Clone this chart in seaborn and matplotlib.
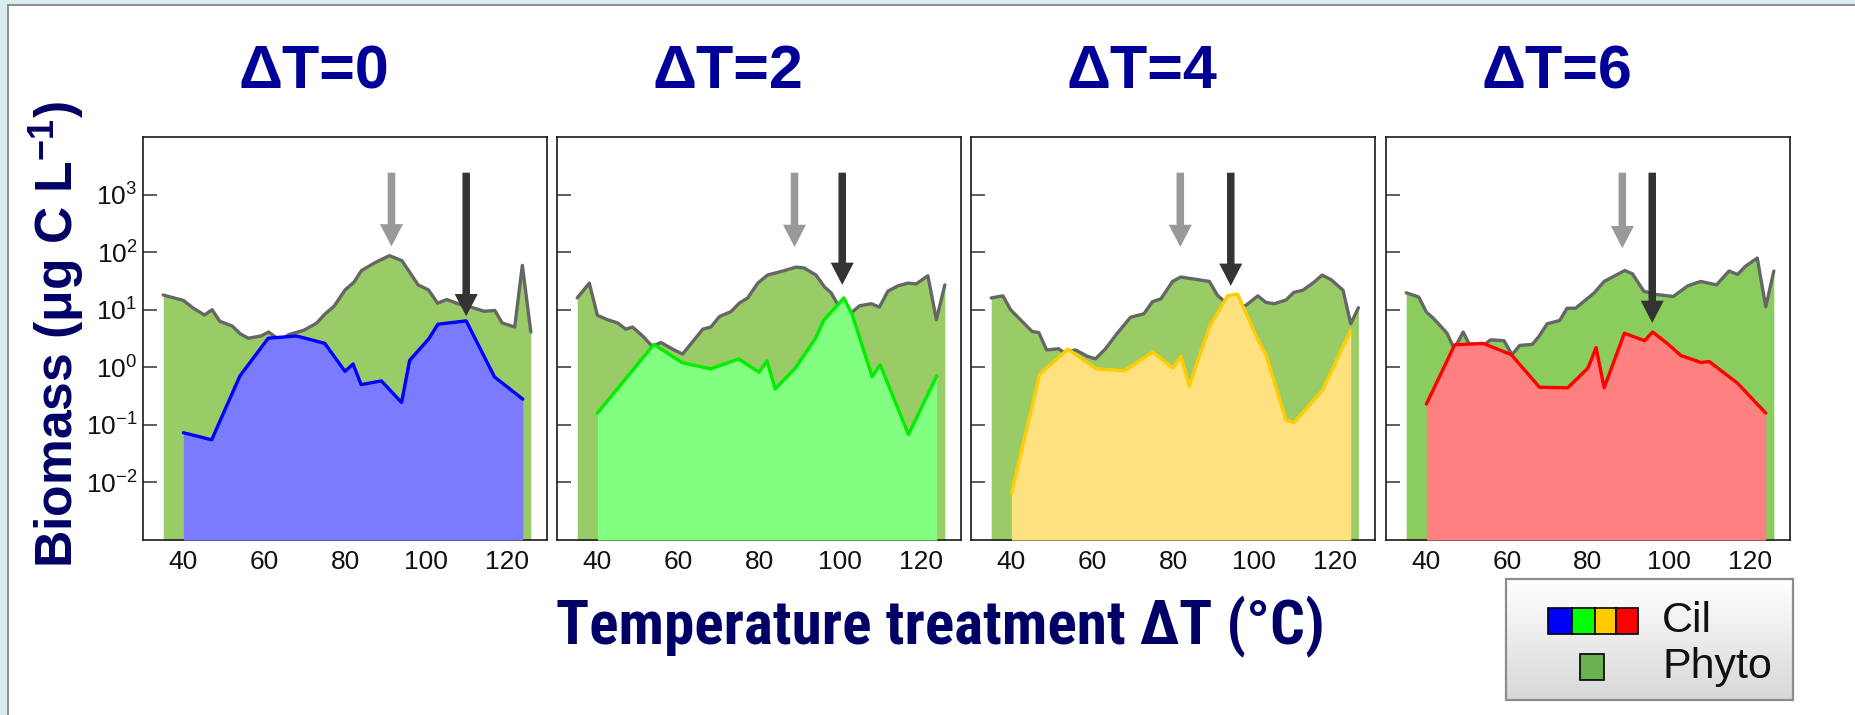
import matplotlib
matplotlib.use("Agg")
import numpy as np
import matplotlib.pyplot as plt
from matplotlib import font_manager
from matplotlib.font_manager import FontProperties
from matplotlib.patches import Rectangle
from matplotlib.colors import LinearSegmentedColormap
from matplotlib.ticker import FixedLocator, NullLocator
import seaborn as sns

# ---------------------------------------------------------------- data
panel_titles = ["ΔT=0", "ΔT=2", "ΔT=4", "ΔT=6"]

# Phytoplankton biomass (µg C L-1) along the temperature gradient
phyto_t_0 = [35, 40, 42.4, 45.2, 47.1, 49, 52.1, 54.1, 56.1, 59.2, 61.1, 64, 66.1, 69.8, 72.9, 75.1,
             77.3, 80, 82.2, 84.1, 87.5, 91, 94.1, 95.9, 98.1, 100.7, 102.9, 105.2, 108.3, 110.5,
             114.4, 117.1, 118.9, 122, 123.9, 126]
phyto_b_0 = [18, 14.5, 10.7, 8.1, 10, 6.3, 5.2, 3.8, 3.2, 3.5, 4.1, 2.9, 3.7, 4.4, 5.8, 8.5,
             11.5, 22, 30, 48, 66, 87, 71, 46, 27, 22, 13, 15, 12.5, 11.5,
             9.4, 9.7, 5.9, 5.0, 59, 4.1]

phyto_t_2 = [35, 38, 40, 42.5, 45, 47, 48.7, 51.2, 53.6, 55.7, 59, 61.1, 63.6, 66.1, 68.1, 70.2,
             73.1, 75.1, 77.2, 79.7, 82.1, 85.9, 89.2, 91.2, 94.1, 96.2, 97.9, 99.5, 102.8, 104.9,
             107.8, 109.8, 111.9, 114.4, 116.9, 118.9, 121.8, 123.9, 126]
phyto_b_2 = [16, 29, 8, 6.7, 5.9, 4.6, 5.0, 3.5, 2.3, 2.7, 2.0, 1.7, 2.8, 4.6, 5.0, 7.6,
             9.3, 13, 16, 29, 40, 47, 55, 53, 40, 25, 19.5, 12.3, 8.8, 11.7,
             12.7, 11.1, 21, 26, 29, 28, 39, 6.7, 27]

phyto_t_4 = [35, 37.9, 39.8, 41.8, 45.1, 46.8, 48.7, 51.7, 53, 55.9, 58.8, 60.8, 63.3, 66.2, 69.5,
             72.8, 74.9, 77, 79.9, 81.9, 89, 91, 93.1, 96, 98.1, 101, 103, 105.1, 108, 109.9,
             112.1, 114.9, 116.9, 119.2, 122.1, 124, 125.9]
phyto_b_4 = [16, 17.4, 10, 7.2, 4.2, 4.0, 2.0, 2.1, 1.8, 2.0, 1.55, 1.4, 2.1, 3.9, 7.4,
             8.5, 13.8, 15.4, 31, 37, 31, 17.8, 13.2, 10.7, 12, 17.4, 13.4, 12.7, 14.8, 20,
             21.7, 30, 40, 33, 21.7, 5.7, 10.8]

phyto_t_6 = [35, 38.1, 40, 41.8, 43.5, 45.1, 46.9, 49.1, 50.5, 53.8, 55.9, 59.2, 61.2, 63.1, 66.2,
             67.8, 69.9, 73, 74.8, 76.9, 81.5, 84, 89.1, 91, 93.8, 97.1, 101.1, 104.7, 107.9,
             111.8, 114.9, 117, 119, 121.9, 124, 126]
phyto_b_6 = [19.7, 16.6, 9.1, 7.0, 5.2, 3.9, 2.1, 4.1, 2.6, 2.3, 3.0, 2.9, 1.66, 2.4, 2.5,
             3.4, 5.7, 6.5, 10.6, 10.6, 19.5, 31, 48, 42, 21, 18.3, 17, 26, 31,
             27, 47, 41, 57, 79, 11.2, 47]

# Ciliate biomass (µg C L-1)
cil_t_0 = [40, 47, 54, 61, 68, 75, 80, 82, 84, 89, 94, 96, 100.7, 103, 110, 117, 124]
cil_b_0 = [0.073, 0.055, 0.71, 3.2, 3.5, 2.6, 0.85, 1.14, 0.50, 0.58, 0.245, 1.32, 3.1, 5.6, 6.4, 0.68, 0.28]

cil_t_2 = [40, 54, 61, 68, 75, 80, 82, 84, 89, 94, 96, 101, 103, 108, 110, 117, 124]
cil_b_2 = [0.16, 2.5, 1.2, 0.94, 1.39, 0.82, 1.29, 0.42, 0.97, 3.2, 6.5, 16, 8.5, 0.69, 1.1, 0.068, 0.71]

cil_t_4 = [40, 47, 54, 61, 68, 75, 80, 82, 84, 89, 93.5, 96, 101, 103, 108, 110, 117, 124]
cil_b_4 = [0.0065, 0.76, 2.07, 0.94, 0.87, 1.84, 0.97, 1.55, 0.47, 5.0, 17.5, 18.6, 3.0, 1.66, 0.12, 0.11, 0.40, 4.4]

cil_t_6 = [40, 47, 54, 61, 68, 75, 80, 82, 84, 89, 94, 96, 99.6, 103, 108, 110, 117, 124]
cil_b_6 = [0.23, 2.45, 2.6, 1.66, 0.45, 0.44, 0.97, 2.2, 0.44, 3.9, 2.9, 4.1, 2.6, 1.6, 1.21, 1.26, 0.53, 0.16]

# Arrow markers: temperature of the phytoplankton (grey) and ciliate (dark) optimum
arrow_phyto_t = [91.5, 88.8, 81.8, 88.5]
arrow_phyto_tip = [126, 123, 123, 117]
arrow_cil_t = [110, 100.6, 94.3, 95.9]
arrow_cil_tip = [7.7, 27, 26, 5.9]
arrow_top = 2400

x_ticks = [40, 60, 80, 100, 120]
x_minor = [50, 70, 90, 110]
y_ticks = [1e-2, 1e-1, 1e0, 1e1, 1e2, 1e3]

phyto_series = [(phyto_t_0, phyto_b_0), (phyto_t_2, phyto_b_2), (phyto_t_4, phyto_b_4), (phyto_t_6, phyto_b_6)]
cil_series = [(cil_t_0, cil_b_0), (cil_t_2, cil_b_2), (cil_t_4, cil_b_4), (cil_t_6, cil_b_6)]

# ---------------------------------------------------------------- style
cil_fill = ["#7b7bff", "#80ff80", "#ffe180", "#ff8080"]
cil_line = ["#0000ff", "#00ee00", "#ffcc00", "#ff0000"]
phyto_fill = ["#99cc66", "#99cc66", "#99cc66", "#8acc5e"]
legend_cil = ["#0000ff", "#00ff00", "#ffcc00", "#ff0000"]
legend_phyto = "#6ab150"
navy = "#000066"
title_blue = "#000099"

sns.set_theme(style="white")
plt.rcParams["font.family"] = ["Liberation Sans", "DejaVu Sans"]
plt.rcParams["mathtext.fontset"] = "custom"
plt.rcParams["mathtext.rm"] = "Liberation Sans"
plt.rcParams["mathtext.bf"] = "Liberation Sans:bold"
plt.rcParams["mathtext.it"] = "Liberation Sans:italic"


def condensed_bold():
    """Font keywords for a narrow bold face, falling back to the regular sans."""
    for fam in ["Liberation Sans Narrow", "Arial Narrow", "Roboto Condensed", "Open Sans Condensed"]:
        try:
            font_manager.findfont(FontProperties(family=fam, weight="bold"), fallback_to_default=False)
            return dict(family=[fam, "DejaVu Sans"])
        except Exception:
            pass
    try:
        path = font_manager.findfont(FontProperties(family="DejaVu Sans", stretch="condensed", weight="bold"),
                                     fallback_to_default=False)
        if "Condensed" in path:
            return dict(family="DejaVu Sans", fontstretch="condensed")
    except Exception:
        pass
    return dict(family=["Liberation Sans", "DejaVu Sans"])


W, H = 1855, 715
fig = plt.figure(figsize=(W / 100, H / 100), dpi=100)
fig.patch.set_facecolor("white")
renderer = fig.canvas.get_renderer()


def fit_text(txt, target_px, along="width"):
    ext = txt.get_window_extent(renderer)
    size = ext.width if along == "width" else ext.height
    txt.set_fontsize(txt.get_fontsize() * target_px / size)


# window frame: pale blue strip with a grey edge along the top and left
frame_blue = "#d9ecf0"
fig.add_artist(Rectangle((0, 1 - 5 / H), 1, 5 / H, transform=fig.transFigure, color=frame_blue, lw=0))
fig.add_artist(Rectangle((0, 0), 8 / W, 1, transform=fig.transFigure, color=frame_blue, lw=0))
fig.add_artist(Rectangle((8 / W, 1 - 6 / H), 1, 2 / H, transform=fig.transFigure, color="#8f8f8f", lw=0))
fig.add_artist(Rectangle((7 / W, 0), 2 / W, 1 - 4 / H, transform=fig.transFigure, color="#8f8f8f", lw=0))

lefts = [143, 557, 971, 1386]
ax_w = 404
ax_bottom, ax_top = 540, 137

for i in range(4):
    ax = fig.add_axes([lefts[i] / W, 1 - ax_bottom / H, ax_w / W, (ax_bottom - ax_top) / H])
    ax.set_facecolor("white")
    ax.set_yscale("log")
    pt, pb = phyto_series[i]
    ct, cb = cil_series[i]

    ax.fill_between(pt, pb, 1e-3, color=phyto_fill[i], lw=0, zorder=1)
    sns.lineplot(x=pt, y=pb, ax=ax, color="#666666", lw=2.4, estimator=None, sort=False, zorder=2)
    ax.fill_between(ct, cb, 1e-3, color=cil_fill[i], lw=0, zorder=3)
    sns.lineplot(x=ct, y=cb, ax=ax, color=cil_line[i], lw=2.4, estimator=None, sort=False, zorder=4)

    for xt, tip, col in [(arrow_phyto_t[i], arrow_phyto_tip[i], "#999999"),
                         (arrow_cil_t[i], arrow_cil_tip[i], "#333333")]:
        ax.annotate("", xy=(xt, tip), xytext=(xt, arrow_top),
                    arrowprops=dict(arrowstyle="simple,head_length=1.6,head_width=1.66,tail_width=0.54",
                                    mutation_scale=10, color=col, lw=0, shrinkA=0, shrinkB=0),
                    zorder=6)

    ax.set_xlim(30, 130)
    ax.set_ylim(1e-3, 1e4)
    ax.xaxis.set_major_locator(FixedLocator(x_ticks))
    ax.xaxis.set_minor_locator(FixedLocator(x_minor))
    ax.yaxis.set_major_locator(FixedLocator(y_ticks))
    ax.yaxis.set_minor_locator(NullLocator())
    ax.tick_params(axis="x", which="major", direction="in", length=7, width=1.1, color="#333333",
                   labelsize=19, pad=7, labelcolor="#111111", bottom=True, top=False)
    ax.tick_params(axis="x", which="minor", direction="in", length=4.5, width=1.1, color="#333333",
                   bottom=True, top=False)
    ax.tick_params(axis="y", which="major", direction="in", length=10, width=1.1, color="#333333",
                   labelsize=19, pad=4, labelcolor="#111111", left=True, right=False, labelleft=(i == 0))
    ax.set_xlabel("")
    ax.set_ylabel("")
    for sp in ax.spines.values():
        sp.set_visible(True)
        sp.set_color("#1a1a1a")
        sp.set_linewidth(1.2)

    fig.text((lefts[i] + ax_w / 2 - 31) / W, 1 - 73 / H, panel_titles[i], ha="center", va="center",
             fontsize=44, fontweight="bold", color=title_blue)

ylab = fig.text(57 / W, 1 - 334 / H, r"Biomass (μg C L$^{\mathbf{-1}}$)", rotation=90, ha="center",
                va="center", fontsize=34, fontweight="bold", color=navy)
fit_text(ylab, 468, along="height")

xlab = fig.text(940 / W, 1 - 627 / H, "Temperature treatment ΔT (°C)", ha="center", va="center",
                fontsize=44, fontweight="bold", color=navy, **condensed_bold())
fit_text(xlab, 769, along="width")

# legend box
lx0, ly0, lw_, lh_ = 1506, 579, 287, 121
lax = fig.add_axes([lx0 / W, 1 - (ly0 + lh_) / H, lw_ / W, lh_ / H])
lax.set_xlim(0, lw_)
lax.set_ylim(lh_, 0)
lax.axis("off")
grad = np.linspace(0, 1, 100)[:, None]
lax.imshow(grad, cmap=LinearSegmentedColormap.from_list("box", ["#ffffff", "#d8d8d8"]),
           extent=(0, lw_, lh_, 0), aspect="auto", zorder=0)
lax.add_patch(Rectangle((0, 0), lw_, lh_, fill=False, ec="#8c8c8c", lw=1.6, clip_on=False, zorder=1))
sq_x = [42, 66, 89, 110, 132]
for k, col in enumerate(legend_cil):
    lax.add_patch(Rectangle((sq_x[k], 29), sq_x[k + 1] - sq_x[k], 26, fc=col, ec="black", lw=1.2, zorder=2))
lax.add_patch(Rectangle((74, 75), 24, 26, fc=legend_phyto, ec="black", lw=1.2, zorder=2))
lax.text(156, 42, "Cil", ha="left", va="center", fontsize=31, color="#111111")
lax.text(156, 88, "Phyto", ha="left", va="center", fontsize=31, color="#111111")

fig.savefig("out.png", dpi=100)
